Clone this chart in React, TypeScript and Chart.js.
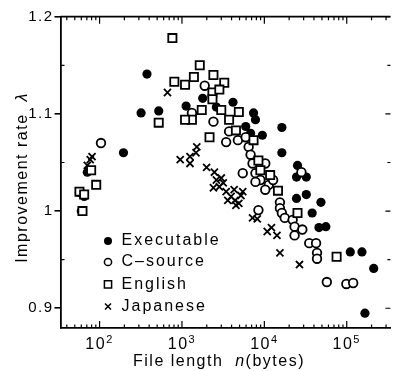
import React, { useEffect, useRef } from 'react';
import { Chart, registerables } from 'chart.js';

Chart.register(...registerables);

// ---------- data ----------
const executableN = [60, 71, 57, 65, 195, 319, 376, 522, 1122, 1786, 2616, 4163, 5936, 6807, 7391, 7800, 9449, 16310, 16310, 25260, 32290, 24570, 32290, 24570, 48610, 38050, 55760, 46030, 110400, 153100, 212500, 166300];
const executableL = [1.000, 1.040, 1.019, 1.015, 1.060, 1.101, 1.141, 1.103, 1.108, 1.116, 1.107, 1.112, 1.087, 1.080, 1.101, 1.094, 1.078, 1.086, 1.060, 1.047, 1.035, 1.035, 1.017, 1.013, 1.009, 0.998, 0.984, 0.983, 0.958, 0.958, 0.941, 0.895];

const cSourceN = [104, 1888, 1321, 2409, 3733, 3438, 4774, 6446, 5936, 5466, 6807, 7190, 10260, 7800, 8946, 11300, 12770, 10260, 7800, 15450, 15450, 16310, 17700, 22030, 23270, 28900, 23270, 8472, 28180, 35060, 42440, 43590, 43590, 57320, 98900, 119700];
const cSourceL = [1.070, 1.129, 1.101, 1.092, 1.082, 1.071, 1.073, 1.066, 1.076, 1.039, 1.058, 1.049, 1.049, 1.039, 1.032, 1.027, 1.032, 1.022, 1.030, 1.009, 1.003, 0.998, 0.993, 0.991, 0.984, 0.981, 0.975, 1.001, 1.040, 0.967, 0.967, 0.957, 0.951, 0.927, 0.925, 0.926];

const englishN = [62, 57, 65, 91, 79, 765, 808, 1091, 1396, 1644, 2409, 3260, 2344, 2843, 2344, 1738, 1321, 3000, 3733, 4902, 4519, 7391, 2160, 522, 1091, 8472, 8946, 11760, 14630, 25260, 75300];
const englishL = [1.000, 1.020, 1.017, 1.027, 1.042, 1.178, 1.133, 1.130, 1.138, 1.150, 1.140, 1.132, 1.122, 1.125, 1.115, 1.104, 1.094, 1.104, 1.094, 1.102, 1.083, 1.073, 1.076, 1.091, 1.094, 1.052, 1.042, 1.037, 1.021, 0.998, 0.953];

const japaneseN = [81, 71, 77, 667, 952, 1251, 1251, 1515, 1480, 1991, 2476, 2616, 2843, 3171, 3438, 3944, 4519, 5466, 4300, 2409, 3600, 4397, 5200, 4902, 3000, 7190, 8200, 10835, 14230, 12200, 15450, 26680];
const japaneseL = [1.056, 1.047, 1.053, 1.122, 1.053, 1.056, 1.049, 1.066, 1.060, 1.045, 1.040, 1.032, 1.025, 1.029, 1.020, 1.015, 1.006, 1.020, 1.022, 1.024, 1.011, 1.011, 1.016, 1.008, 1.034, 0.993, 0.992, 0.979, 0.975, 0.983, 0.957, 0.945];

const seriesNames = ['Executable', 'C\u2013source', 'English', 'Japanese'];

const xMajorTicks = [100, 1000, 10000, 100000];
const xTickExponents = ['2', '3', '4', '5'];
const yMajorTicks = [0.9, 1, 1.1, 1.2];
const yTickLabels = ['0.9', '1', '1.1', '1.2'];
const yMinorTicks = [0.95, 1.05, 1.15];

const xMin = 33.55;
const xMax = 338800;
const yMin = 0.8797;
const yMax = 1.2;

const xTitleParts = ['File length  ', 'n', '(bytes)'];
const yTitleParts = ['Improvement rate  ', '\u03bb'];

const FONT = '"Liberation Sans", Arial, Helvetica, sans-serif';

const toPoints = (xs: number[], ys: number[]) => xs.map((x, i) => ({ x, y: ys[i] }));

function drawMarker(ctx: CanvasRenderingContext2D, kind: number, x: number, y: number) {
  ctx.save();
  ctx.strokeStyle = '#000';
  ctx.fillStyle = '#000';
  ctx.lineWidth = 1.5;
  ctx.beginPath();
  if (kind === 0) {
    ctx.arc(x, y, 4, 0, Math.PI * 2);
    ctx.fill();
  } else if (kind === 1) {
    ctx.arc(x, y, 3.6, 0, Math.PI * 2);
    ctx.fillStyle = '#fff';
    ctx.fill();
    ctx.stroke();
  } else if (kind === 2) {
    ctx.rect(x - 3.6, y - 3.6, 7.2, 7.2);
    ctx.fillStyle = '#fff';
    ctx.fill();
    ctx.stroke();
  } else {
    const s = 3;
    ctx.moveTo(x - s, y - s);
    ctx.lineTo(x + s, y + s);
    ctx.moveTo(x + s, y - s);
    ctx.lineTo(x - s, y + s);
    ctx.stroke();
  }
  ctx.restore();
}

const framePlugin = {
  id: 'framePlugin',
  beforeDraw(chart: any) {
    (chart.ctx as any).letterSpacing = '1.5px';
  },
  afterDraw(chart: any) {
    const ctx: CanvasRenderingContext2D = chart.ctx;
    const { left, right, top, bottom } = chart.chartArea;
    const xs = chart.scales.x;
    const ys = chart.scales.y;
    ctx.save();
    ctx.strokeStyle = '#000';
    ctx.lineWidth = 1.7;
    ctx.lineCap = 'butt';
    // top frame line
    ctx.beginPath();
    ctx.moveTo(left, top);
    ctx.lineTo(right, top);
    ctx.stroke();

    // x ticks (inward, bottom & top)
    ctx.lineWidth = 1.2;
    ctx.beginPath();
    for (let d = 1; d <= 5; d++) {
      for (let k = 1; k <= 9; k++) {
        const v = k * Math.pow(10, d);
        if (v < xMin || v > xMax) continue;
        const px = xs.getPixelForValue(v);
        const len = k === 1 ? 7 : 3.5;
        ctx.moveTo(px, bottom);
        ctx.lineTo(px, bottom - len);
        ctx.moveTo(px, top);
        ctx.lineTo(px, top + len);
      }
    }
    // y minor ticks on left (inward)
    for (const v of yMinorTicks) {
      const py = ys.getPixelForValue(v);
      ctx.moveTo(left, py);
      ctx.lineTo(left + 4, py);
      ctx.moveTo(right, py);
      ctx.lineTo(right - 3, py);
    }
    // y major ticks on right (inward)
    for (const v of yMajorTicks) {
      const py = ys.getPixelForValue(v);
      ctx.moveTo(right, py);
      ctx.lineTo(right - 5, py);
    }
    ctx.stroke();

    ctx.fillStyle = '#000';
    (ctx as any).letterSpacing = '1.5px';
    // x tick labels 10^k
    ctx.textBaseline = 'alphabetic';
    ctx.textAlign = 'left';
    xMajorTicks.forEach((v, i) => {
      const px = xs.getPixelForValue(v);
      ctx.font = `16px ${FONT}`;
      const wBase = ctx.measureText('10').width;
      ctx.font = `11px ${FONT}`;
      const wExp = ctx.measureText(xTickExponents[i]).width;
      const x0 = px - (wBase + wExp) / 2;
      ctx.font = `16px ${FONT}`;
      ctx.fillText('10', x0, 349);
      ctx.font = `11px ${FONT}`;
      ctx.fillText(xTickExponents[i], x0 + wBase, 343);
    });

    // x axis title
    const xFonts = [`16px ${FONT}`, `italic 16px ${FONT}`, `16px ${FONT}`];
    let tx = 133;
    xTitleParts.forEach((p, i) => {
      ctx.font = xFonts[i];
      ctx.fillText(p, tx, 366);
      tx += ctx.measureText(p).width;
    });

    // y axis title (rotated)
    const yFonts = [`16px ${FONT}`, `italic 16px ${FONT}`];
    let totalW = 0;
    yTitleParts.forEach((p, i) => {
      ctx.font = yFonts[i];
      totalW += ctx.measureText(p).width;
    });
    ctx.save();
    ctx.translate(26.5, 177.5);
    ctx.rotate(-Math.PI / 2);
    let ty = -totalW / 2;
    yTitleParts.forEach((p, i) => {
      ctx.font = yFonts[i];
      ctx.fillText(p, ty, 0);
      ty += ctx.measureText(p).width;
    });
    ctx.restore();

    // legend
    const rows = [241, 262, 284.3, 306.5];
    ctx.font = `16px ${FONT}`;
    (ctx as any).letterSpacing = '2px';
    ctx.textBaseline = 'middle';
    seriesNames.forEach((name, i) => {
      drawMarker(ctx, i, 108, rows[i]);
      ctx.fillStyle = '#000';
      ctx.fillText(name, 121.5, rows[i]);
    });
    ctx.restore();
  },
};

export default function App() {
  const canvasRef = useRef<HTMLCanvasElement | null>(null);

  useEffect(() => {
    document.body.style.margin = '0';
    const canvas = canvasRef.current;
    if (!canvas) return;
    const chart = new Chart(canvas, {
      type: 'scatter',
      data: {
        datasets: [
          {
            label: seriesNames[0],
            data: toPoints(executableN, executableL),
            pointStyle: 'circle',
            pointRadius: 4.6,
            backgroundColor: '#000',
            borderColor: '#000',
            borderWidth: 0,
            order: 4,
          },
          {
            label: seriesNames[1],
            data: toPoints(cSourceN, cSourceL),
            pointStyle: 'circle',
            pointRadius: 4.3,
            backgroundColor: '#fff',
            borderColor: '#000',
            borderWidth: 1.8,
            order: 2,
          },
          {
            label: seriesNames[2],
            data: toPoints(englishN, englishL),
            pointStyle: 'rect',
            pointRadius: 5.8,
            backgroundColor: '#fff',
            borderColor: '#000',
            borderWidth: 1.8,
            order: 1,
          },
          {
            label: seriesNames[3],
            data: toPoints(japaneseN, japaneseL),
            pointStyle: 'crossRot',
            pointRadius: 5,
            backgroundColor: '#000',
            borderColor: '#000',
            borderWidth: 1.8,
            order: 3,
          },
        ],
      },
      options: {
        responsive: false,
        animation: false,
        devicePixelRatio: 1,
        layout: { padding: { left: 0, right: 0, top: 16.7, bottom: 0 } },
        plugins: {
          legend: { display: false },
          tooltip: { enabled: false },
          title: { display: false },
        },
        scales: {
          x: {
            type: 'logarithmic',
            min: xMin,
            max: xMax,
            grid: { display: false },
            border: { display: true, color: '#000', width: 1.8 },
            ticks: { display: false },
            afterBuildTicks: (scale: any) => {
              scale.ticks = xMajorTicks.map((v) => ({ value: v }));
            },
            afterFit: (scale: any) => {
              scale.height = 43;
            },
          },
          y: {
            type: 'linear',
            min: yMin,
            max: yMax,
            grid: {
              display: true,
              drawOnChartArea: false,
              drawTicks: true,
              tickLength: 6,
              color: '#000',
              lineWidth: 1.6,
            },
            border: { display: true, color: '#000', width: 1.8 },
            ticks: {
              color: '#000',
              padding: 1,
              font: { family: FONT, size: 15 },
              callback: (_v: any, i: number) => yTickLabels[i],
            },
            afterBuildTicks: (scale: any) => {
              scale.ticks = yMajorTicks.map((v) => ({ value: v }));
            },
            afterFit: (scale: any) => {
              scale.width = 60.5;
            },
          },
        },
      },
      plugins: [framePlugin],
    } as any);
    return () => chart.destroy();
  }, []);

  return (
    <div style={{ width: 398, height: 371, background: '#fff' }}>
      <canvas ref={canvasRef} width={398} height={371} style={{ display: 'block' }} />
    </div>
  );
}
